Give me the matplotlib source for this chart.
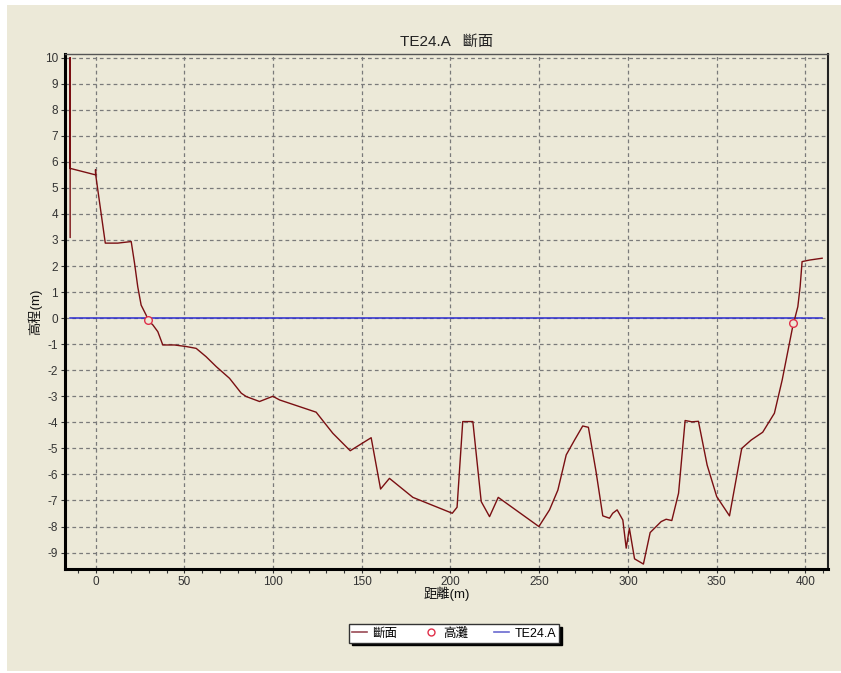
import matplotlib.pyplot as plt
from matplotlib.patches import Rectangle
from matplotlib.ticker import MultipleLocator
from matplotlib.lines import Line2D

plt.rcParams['font.family'] = ['Liberation Sans', 'Noto Sans CJK TC', 'DejaVu Sans']
plt.rcParams['axes.unicode_minus'] = False

# cross-section profile: distance (m), elevation (m)
dist = [-14.3, -14.3, -14.3, 0.0, 0.0, 0.2, 5.5, 12.5, 20.1, 22.0, 23.8, 25.7,
        28.5, 29.8, 32.3, 35.1, 37.9, 44.5, 51.1, 56.7, 62.3, 68.0, 75.5,
        82.1, 84.9, 92.4, 99.9, 103.7, 124.3, 133.7, 143.5, 155.3, 160.6,
        165.6, 178.8, 191.9, 201.0, 203.7, 206.9, 212.6, 217.3, 222.0, 226.9,
        249.8, 255.8, 260.5, 265.2, 269.9, 274.5, 277.7, 282.0, 285.8, 289.6,
        291.4, 293.9, 297.1, 299.0, 300.8, 303.7, 308.7, 312.5, 318.7, 321.5,
        324.7, 328.5, 332.2, 336.0, 339.7, 344.6, 350.0, 357.2, 364.1, 369.4,
        375.9, 382.5, 386.9, 392.8, 395.7, 397.0, 398.1, 402.3, 409.4]
elev = [3.1, 10.0, 5.75, 5.5, 5.7, 5.45, 2.88, 2.88, 2.94, 2.1, 1.2, 0.5,
        0.12, -0.1, -0.26, -0.52, -1.03, -1.03, -1.09, -1.16, -1.48, -1.86, -2.31,
        -2.88, -3.01, -3.2, -3.0, -3.14, -3.61, -4.42, -5.09, -4.59, -6.56,
        -6.15, -6.88, -7.24, -7.49, -7.26, -3.97, -3.97, -7.04, -7.62, -6.88,
        -8.0, -7.36, -6.6, -5.25, -4.68, -4.14, -4.19, -5.89, -7.59, -7.68,
        -7.49, -7.36, -7.75, -8.83, -8.07, -9.24, -9.44, -8.23, -7.81, -7.72,
        -7.77, -6.72, -3.93, -3.98, -3.96, -5.64, -6.85, -7.59, -5.0, -4.68,
        -4.38, -3.65, -2.37, -0.33, 0.44, 1.21, 2.17, 2.23, 2.3]

# bank (高灘) points where the profile meets the water level
bank_x = [29.5, 393.2]
bank_y = [-0.08, -0.17]

# TE24.A water level
level_x = [-14.5, 409.5]
level_y = [0.0, 0.0]

fig = plt.figure(figsize=(8.41, 6.73), dpi=100)
fig.patch.set_facecolor('white')
fig.patches.append(Rectangle((7 / 841, 2 / 673), 1 - 7 / 841, 1 - 7 / 673,
                             transform=fig.transFigure, facecolor='#ECE9D8',
                             edgecolor='none', zorder=0))

ax = fig.add_axes([65 / 841, 1 - 569 / 673, 763 / 841, 515 / 673])
ax.set_zorder(2)
ax.set_facecolor('#ECE9D8')

ax.plot(level_x, level_y, color='#2b2bd0', lw=1.1, zorder=3)
ax.plot(dist, elev, color='#7a0f12', lw=1.0, zorder=4)
ax.plot(bank_x, bank_y, 'o', ms=5.5, mfc='#ECE9D8', mec='#e0304a', mew=1.0, zorder=5)

ax.set_xlim(-17.2, 412.7)
ax.set_ylim(-9.63, 10.14)
ax.xaxis.set_major_locator(MultipleLocator(50))
ax.xaxis.set_minor_locator(MultipleLocator(10))
ax.yaxis.set_major_locator(MultipleLocator(1))
ax.grid(True, which='major', color='#7a7a7a', ls=(0, (3, 2.5)), lw=0.9)
ax.tick_params(which='both', direction='out', length=3, width=0.8,
               labelsize=8.5, colors='#333333', pad=2)
ax.tick_params(which='minor', length=3)

for side in ['left', 'bottom']:
    ax.spines[side].set_linewidth(2.2)
    ax.spines[side].set_color('black')
ax.spines['right'].set_linewidth(1.5)
ax.spines['right'].set_color('#222222')
ax.spines['top'].set_linewidth(1.0)
ax.spines['top'].set_color('#555555')

ax.set_title('TE24.A   斷面', fontsize=11, color='#222222', pad=6)
ax.set_xlabel('距離(m)', fontsize=9.5, labelpad=-1, color='#111111')
ax.set_ylabel('高程(m)', fontsize=9.5, labelpad=2, color='#111111')

handles = [Line2D([], [], color='#9a4a55', lw=1.2),
           Line2D([], [], ls='none', marker='o', ms=5, mfc='white', mec='#e0304a'),
           Line2D([], [], color='#6a6ad0', lw=1.2)]
leg = fig.legend(handles, ['斷面', '高灘', 'TE24.A'], loc='center',
                 bbox_to_anchor=(454 / 841, 1 - 633.5 / 673), ncol=3,
                 fontsize=9, frameon=True, fancybox=False,
                 shadow={'color': 'black', 'alpha': 1.0},
                 handlelength=1.2, handletextpad=0.4, columnspacing=2.1,
                 borderpad=0.25)
leg.get_frame().set_edgecolor('#333333')
leg.get_frame().set_linewidth(1.0)
leg.get_frame().set_facecolor('white')

fig.savefig('out.png', dpi=100, facecolor=fig.get_facecolor())
